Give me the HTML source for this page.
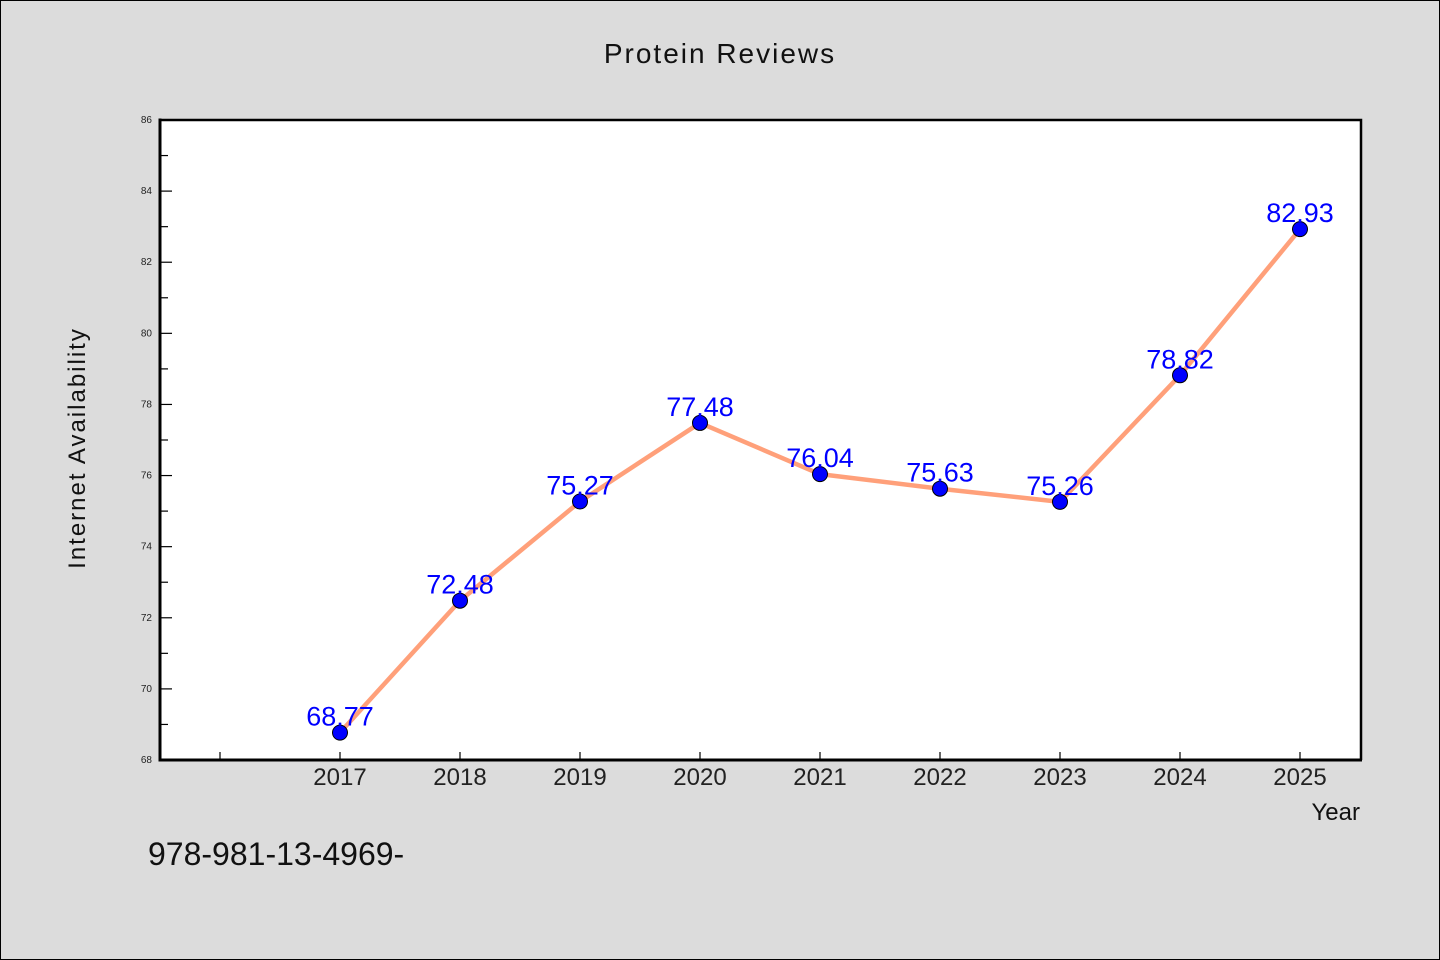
<!DOCTYPE html>
<html><head><meta charset="utf-8"><style>
html,body{margin:0;padding:0;background:#dcdcdc;}
svg{display:block;font-family:"WenQuanYi Zen Hei Mono","WenQuanYi Zen Hei","Liberation Sans",sans-serif;}
</style></head><body>
<svg id="chart" width="1440" height="960" viewBox="0 0 1440 960">
<rect x="0.5" y="0.5" width="1439" height="959" fill="#dcdcdc" stroke="#000" stroke-width="1"/>
<text x="720" y="63" text-anchor="middle" font-size="28" fill="#111" letter-spacing="2">Protein Reviews</text>
<rect x="160" y="120" width="1201" height="640" fill="#fff"/>
<g id="yticks"></g>
<g id="xticks"></g>
<path d="M160,120 H1361 V760" fill="none" stroke="#000" stroke-width="2.5"/>
<path d="M160,118.5 V760 H1362" fill="none" stroke="#000" stroke-width="3"/>
<g id="series"></g>
<text transform="translate(85,448) rotate(-90)" text-anchor="middle" font-size="24" fill="#111" letter-spacing="2">Internet Availability</text>
<text x="1360" y="820" text-anchor="end" font-size="24" fill="#111">Year</text>
<text x="148" y="865" font-size="32" fill="#111">978-981-13-4969-</text>
</svg>
<script>
const years = [2017,2018,2019,2020,2021,2022,2023,2024,2025];
const values = [68.77,72.48,75.27,77.48,76.04,75.63,75.26,78.82,82.93];
const valueLabels = ["68.77","72.48","75.27","77.48","76.04","75.63","75.26","78.82","82.93"];
const yTickLabels = ["68","70","72","74","76","78","80","82","84","86"];
const xTicks = [2016,2017,2018,2019,2020,2021,2022,2023,2024,2025];

const NS="http://www.w3.org/2000/svg";
const yMin=68,yMax=86,plotTop=120,plotBottom=760;
const xs=v=>340+(v-2017)*120;
const ys=v=>plotBottom-(v-yMin)/(yMax-yMin)*(plotBottom-plotTop);
function mk(tag,attrs,parent){const e=document.createElementNS(NS,tag);for(const k in attrs)e.setAttribute(k,attrs[k]);parent.appendChild(e);return e;}

const yg=document.getElementById('yticks');
for(let v=yMin; v<=yMax; v+=1){
  const y=ys(v), major=(v%2===0);
  const t=mk('line',{x1:160,x2:major?172:168,y1:y,y2:y,stroke:'#000','stroke-width':1.2},yg);
  
  
}
yTickLabels.forEach(s=>{
  const l=mk('text',{x:152,y:ys(+s)+3,'text-anchor':'end','font-size':10,fill:'#222'},yg);
  l.textContent=s;
  
  
});
const xg=document.getElementById('xticks');
xTicks.forEach(v=>{
  const x=xs(v);
  const t=mk('line',{x1:x,x2:x,y1:760,y2:752,stroke:'#000','stroke-width':1.2},xg);
  
  
});
years.forEach(v=>{
  const l=mk('text',{x:xs(v),y:785,'text-anchor':'middle','font-size':24,fill:'#222'},xg);
  l.textContent=String(v);
  
  
});
const sg=document.getElementById('series');
const pts=years.map((y,i)=>xs(y)+','+ys(values[i])).join(' ');
const line=mk('polyline',{points:pts,fill:'none',stroke:'#ffa07a','stroke-width':4.5,'stroke-linejoin':'round'},sg);


years.forEach((y,i)=>{
  const c=mk('circle',{cx:xs(y),cy:ys(values[i]),r:7.5,fill:'#0000ff',stroke:'#000','stroke-width':1},sg);
  
  
});
years.forEach((y,i)=>{
  const l=mk('text',{x:xs(y),y:ys(values[i])-7,'text-anchor':'middle','font-size':27,fill:'#0000ff'},sg);
  l.textContent=valueLabels[i];
  
  
});
</script>
</body></html>
